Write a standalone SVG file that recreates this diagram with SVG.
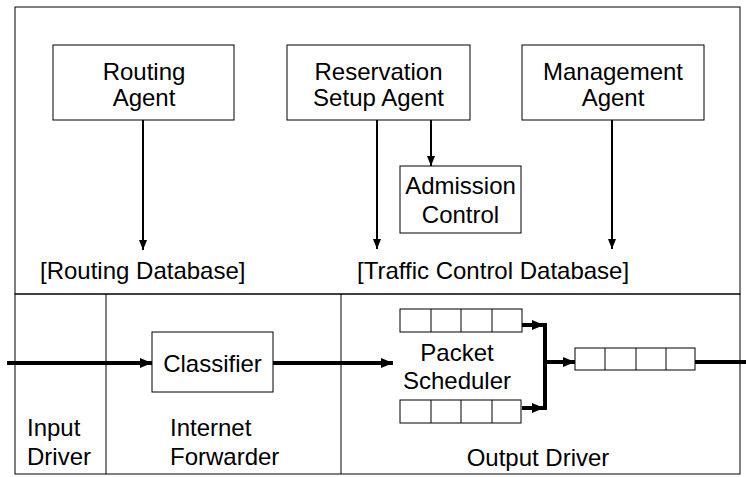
<svg xmlns="http://www.w3.org/2000/svg" width="746" height="477" viewBox="0 0 746 477">
<style>
text{font-family:"Liberation Sans",Arial,sans-serif;font-size:24px;fill:#000}
.c{text-anchor:middle}
.box{fill:#fff;stroke:#000;stroke-width:1}
.frame{fill:none;stroke:#000;stroke-width:1}
.a{stroke:#000;stroke-width:2;fill:none}
.f{stroke:#000;stroke-width:4;fill:none}
</style>
<defs>
<marker id="ah" markerUnits="userSpaceOnUse" markerWidth="10" markerHeight="10" refX="10" refY="5" orient="auto" viewBox="0 0 10 10">
<path d="M0,1 L10,5 L0,9 z" fill="#000"/>
</marker>
<marker id="ahf" markerUnits="userSpaceOnUse" markerWidth="12" markerHeight="12" refX="12" refY="6" orient="auto" viewBox="0 0 12 12">
<path d="M0,1 L12,6 L0,11 z" fill="#000"/>
</marker>
</defs>
<rect width="746" height="477" fill="#fff"/>
<g id="frames">
<rect class="frame" x="15" y="7" width="725" height="287"/>
<rect class="frame" x="15" y="294" width="725" height="180"/>
<line class="frame" x1="106" y1="294" x2="106" y2="474"/>
<line class="frame" x1="341" y1="294" x2="341" y2="474"/>
</g>
<g id="connectors">
<line class="a" x1="143" y1="120" x2="143" y2="250" marker-end="url(#ah)"/>
<line class="a" x1="377" y1="120" x2="377" y2="249" marker-end="url(#ah)"/>
<line class="a" x1="431" y1="120" x2="431" y2="166" marker-end="url(#ah)"/>
<line class="a" x1="612" y1="120" x2="612" y2="249" marker-end="url(#ah)"/>
<line class="f" x1="7" y1="363" x2="152" y2="363" marker-end="url(#ahf)"/>
<line class="f" x1="273" y1="363" x2="393" y2="363" marker-end="url(#ahf)"/>
<line class="f" x1="522" y1="325" x2="544" y2="325" marker-end="url(#ahf)"/>
<line class="f" x1="522" y1="408" x2="544" y2="408" marker-end="url(#ahf)"/>
<line class="f" x1="545" y1="323" x2="545" y2="410"/>
<line class="f" x1="545" y1="362" x2="575" y2="362" marker-end="url(#ahf)"/>
<line class="f" x1="695" y1="362" x2="746" y2="362"/>
</g>
<g id="routing-agent">
<rect class="box" x="53" y="45" width="181" height="75"/>
<text class="c" x="144" y="80">Routing</text>
<text class="c" x="144" y="106">Agent</text>
</g>
<g id="reservation-setup-agent">
<rect class="box" x="287" y="45" width="183" height="75"/>
<text class="c" x="378.5" y="80">Reservation</text>
<text class="c" x="378.5" y="106">Setup Agent</text>
</g>
<g id="management-agent">
<rect class="box" x="522" y="45" width="182" height="75"/>
<text class="c" x="613" y="80">Management</text>
<text class="c" x="613" y="106">Agent</text>
</g>
<g id="admission-control">
<rect class="box" x="400" y="166" width="121" height="67"/>
<text class="c" x="460.5" y="194">Admission</text>
<text class="c" x="460.5" y="223">Control</text>
</g>
<g id="routing-database">
<text x="40" y="279">[Routing Database]</text>
</g>
<g id="traffic-control-database">
<text x="357" y="279">[Traffic Control Database]</text>
</g>
<g id="classifier">
<rect class="box" x="152" y="332" width="121" height="60"/>
<text class="c" x="212.5" y="372">Classifier</text>
</g>
<g id="queue-top">
<rect class="box" x="400" y="309" width="122" height="23"/>
<line class="frame" x1="431" y1="309" x2="431" y2="332"/>
<line class="frame" x1="461" y1="309" x2="461" y2="332"/>
<line class="frame" x1="492" y1="309" x2="492" y2="332"/>
</g>
<g id="queue-bottom">
<rect class="box" x="400" y="400" width="121" height="23"/>
<line class="frame" x1="431" y1="400" x2="431" y2="423"/>
<line class="frame" x1="461" y1="400" x2="461" y2="423"/>
<line class="frame" x1="492" y1="400" x2="492" y2="423"/>
</g>
<g id="queue-output">
<rect class="box" x="575" y="348" width="120" height="22"/>
<line class="frame" x1="605" y1="348" x2="605" y2="370"/>
<line class="frame" x1="636" y1="348" x2="636" y2="370"/>
<line class="frame" x1="666" y1="348" x2="666" y2="370"/>
</g>
<g id="packet-scheduler">
<text class="c" x="457" y="361">Packet</text>
<text class="c" x="457" y="389">Scheduler</text>
</g>
<g id="input-driver">
<text x="27" y="436">Input</text>
<text x="27" y="465">Driver</text>
</g>
<g id="internet-forwarder">
<text x="170" y="436">Internet</text>
<text x="170" y="465">Forwarder</text>
</g>
<g id="output-driver">
<text class="c" x="538" y="466">Output Driver</text>
</g>
</svg>
